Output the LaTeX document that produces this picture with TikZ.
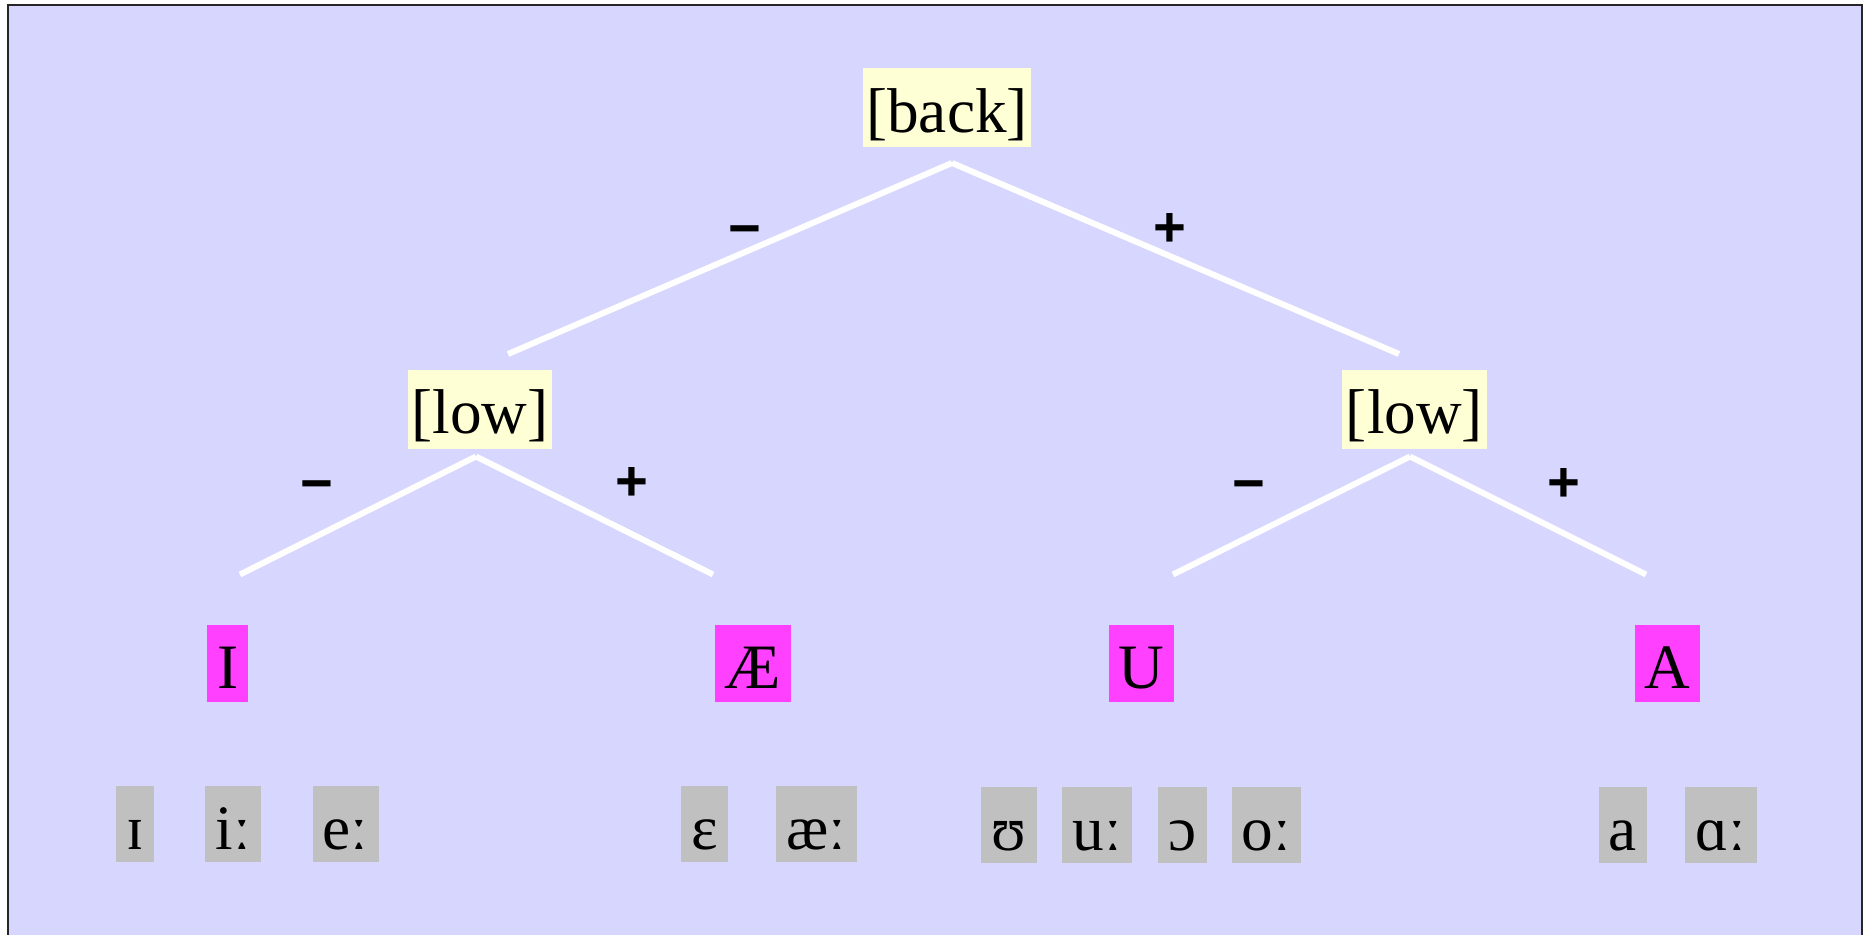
\documentclass[tikz,border=0pt]{standalone}
\usepackage{fontspec}
\setmainfont{Liberation Serif}
\newfontfamily\signfont{Liberation Sans}
\definecolor{panelbg}{RGB}{214,214,254}
\definecolor{featyellow}{RGB}{255,255,214}
\definecolor{segmagenta}{RGB}{255,64,255}
\definecolor{phongray}{RGB}{192,192,192}
\begin{document}
\begin{tikzpicture}[
  feat/.style={fill=featyellow, inner xsep=1pt, inner ysep=0pt,
    text height=0.64cm, text depth=0.15cm, font=\fontsize{18}{22}\selectfont},
  seg/.style={fill=segmagenta, inner xsep=2.8pt, inner ysep=0pt,
    text height=0.635cm, text depth=0.127cm, font=\fontsize{18}{22}\selectfont},
  phon/.style={fill=phongray, inner xsep=2.9pt, inner ysep=0pt,
    text height=0.635cm, text depth=0.127cm, font=\fontsize{18}{22}\selectfont},
  sign/.style={font=\signfont\bfseries\fontsize{16}{18}\selectfont, inner sep=0pt},
  branch/.style={white, line width=1.7pt}
]
  \useasboundingbox (0,0) rectangle (18.69,-9.35);
  \clip (0,0) rectangle (18.69,-9.35);

  % Panel
  \fill[panelbg] (0.08,-0.05) rectangle (18.62,-9.6);
  \draw[line width=0.6pt, black!85] (0.08,-0.05) rectangle (18.62,-9.6);

  % Root - [back]
  \node[feat] (back) at (9.47,-1.075) {[back]};
  \coordinate (backfoot) at (9.52,-1.63);
  \coordinate (lowLtop) at (5.08,-3.54);
  \coordinate (lowRtop) at (13.99,-3.54);
  \draw[branch] (backfoot) -- (lowLtop);
  \draw[branch] (backfoot) -- (lowRtop);
  \node[sign] (backminus) at (7.45,-2.37) {−};
  \node[sign] (backplus) at (11.70,-2.30) {+};

  % Left subtree - [low]
  \node[feat] (lowL) at (4.80,-4.09) {[low]};
  \coordinate (lowLfoot) at (4.76,-4.565);
  \coordinate (segItop) at (2.40,-5.745);
  \coordinate (segAEtop) at (7.13,-5.745);
  \draw[branch] (lowLfoot) -- (segItop);
  \draw[branch] (lowLfoot) -- (segAEtop);
  \node[sign] (lowLminus) at (3.17,-4.92) {−};
  \node[sign] (lowLplus) at (6.32,-4.845) {+};

  % Right subtree - [low]
  \node[feat] (lowR) at (14.145,-4.09) {[low]};
  \coordinate (lowRfoot) at (14.10,-4.565);
  \coordinate (segUtop) at (11.73,-5.745);
  \coordinate (segAtop) at (16.46,-5.745);
  \draw[branch] (lowRfoot) -- (segUtop);
  \draw[branch] (lowRfoot) -- (segAtop);
  \node[sign] (lowRminus) at (12.49,-4.92) {−};
  \node[sign] (lowRplus) at (15.64,-4.85) {+};

  % Segments
  \node[seg] (segI) at (2.277,-6.635) {I};
  \node[seg] (segAE) at (7.527,-6.635) {Æ};
  \node[seg] (segU) at (11.413,-6.635) {U};
  \node[seg] (segA) at (16.677,-6.635) {A};

  % Phones
  \node[phon] (ph1) at (1.353,-8.24) {ɪ};
  \node[phon] (ph2) at (2.33,-8.24) {iː};
  \node[phon] (ph3) at (3.457,-8.24) {eː};
  \node[phon] (ph4) at (7.045,-8.24) {ɛ};
  \node[phon] (ph5) at (8.165,-8.24) {æː};
  \node[phon] (ph6) at (10.09,-8.25) {ʊ};
  \node[phon] (ph7) at (10.97,-8.25) {uː};
  \node[phon] (ph8) at (11.825,-8.25) {ɔ};
  \node[phon] (ph9) at (12.665,-8.25) {oː};
  \node[phon] (ph10) at (16.23,-8.25) {a};
  \node[phon] (ph11) at (17.21,-8.25) {ɑː};
\end{tikzpicture}
\end{document}
